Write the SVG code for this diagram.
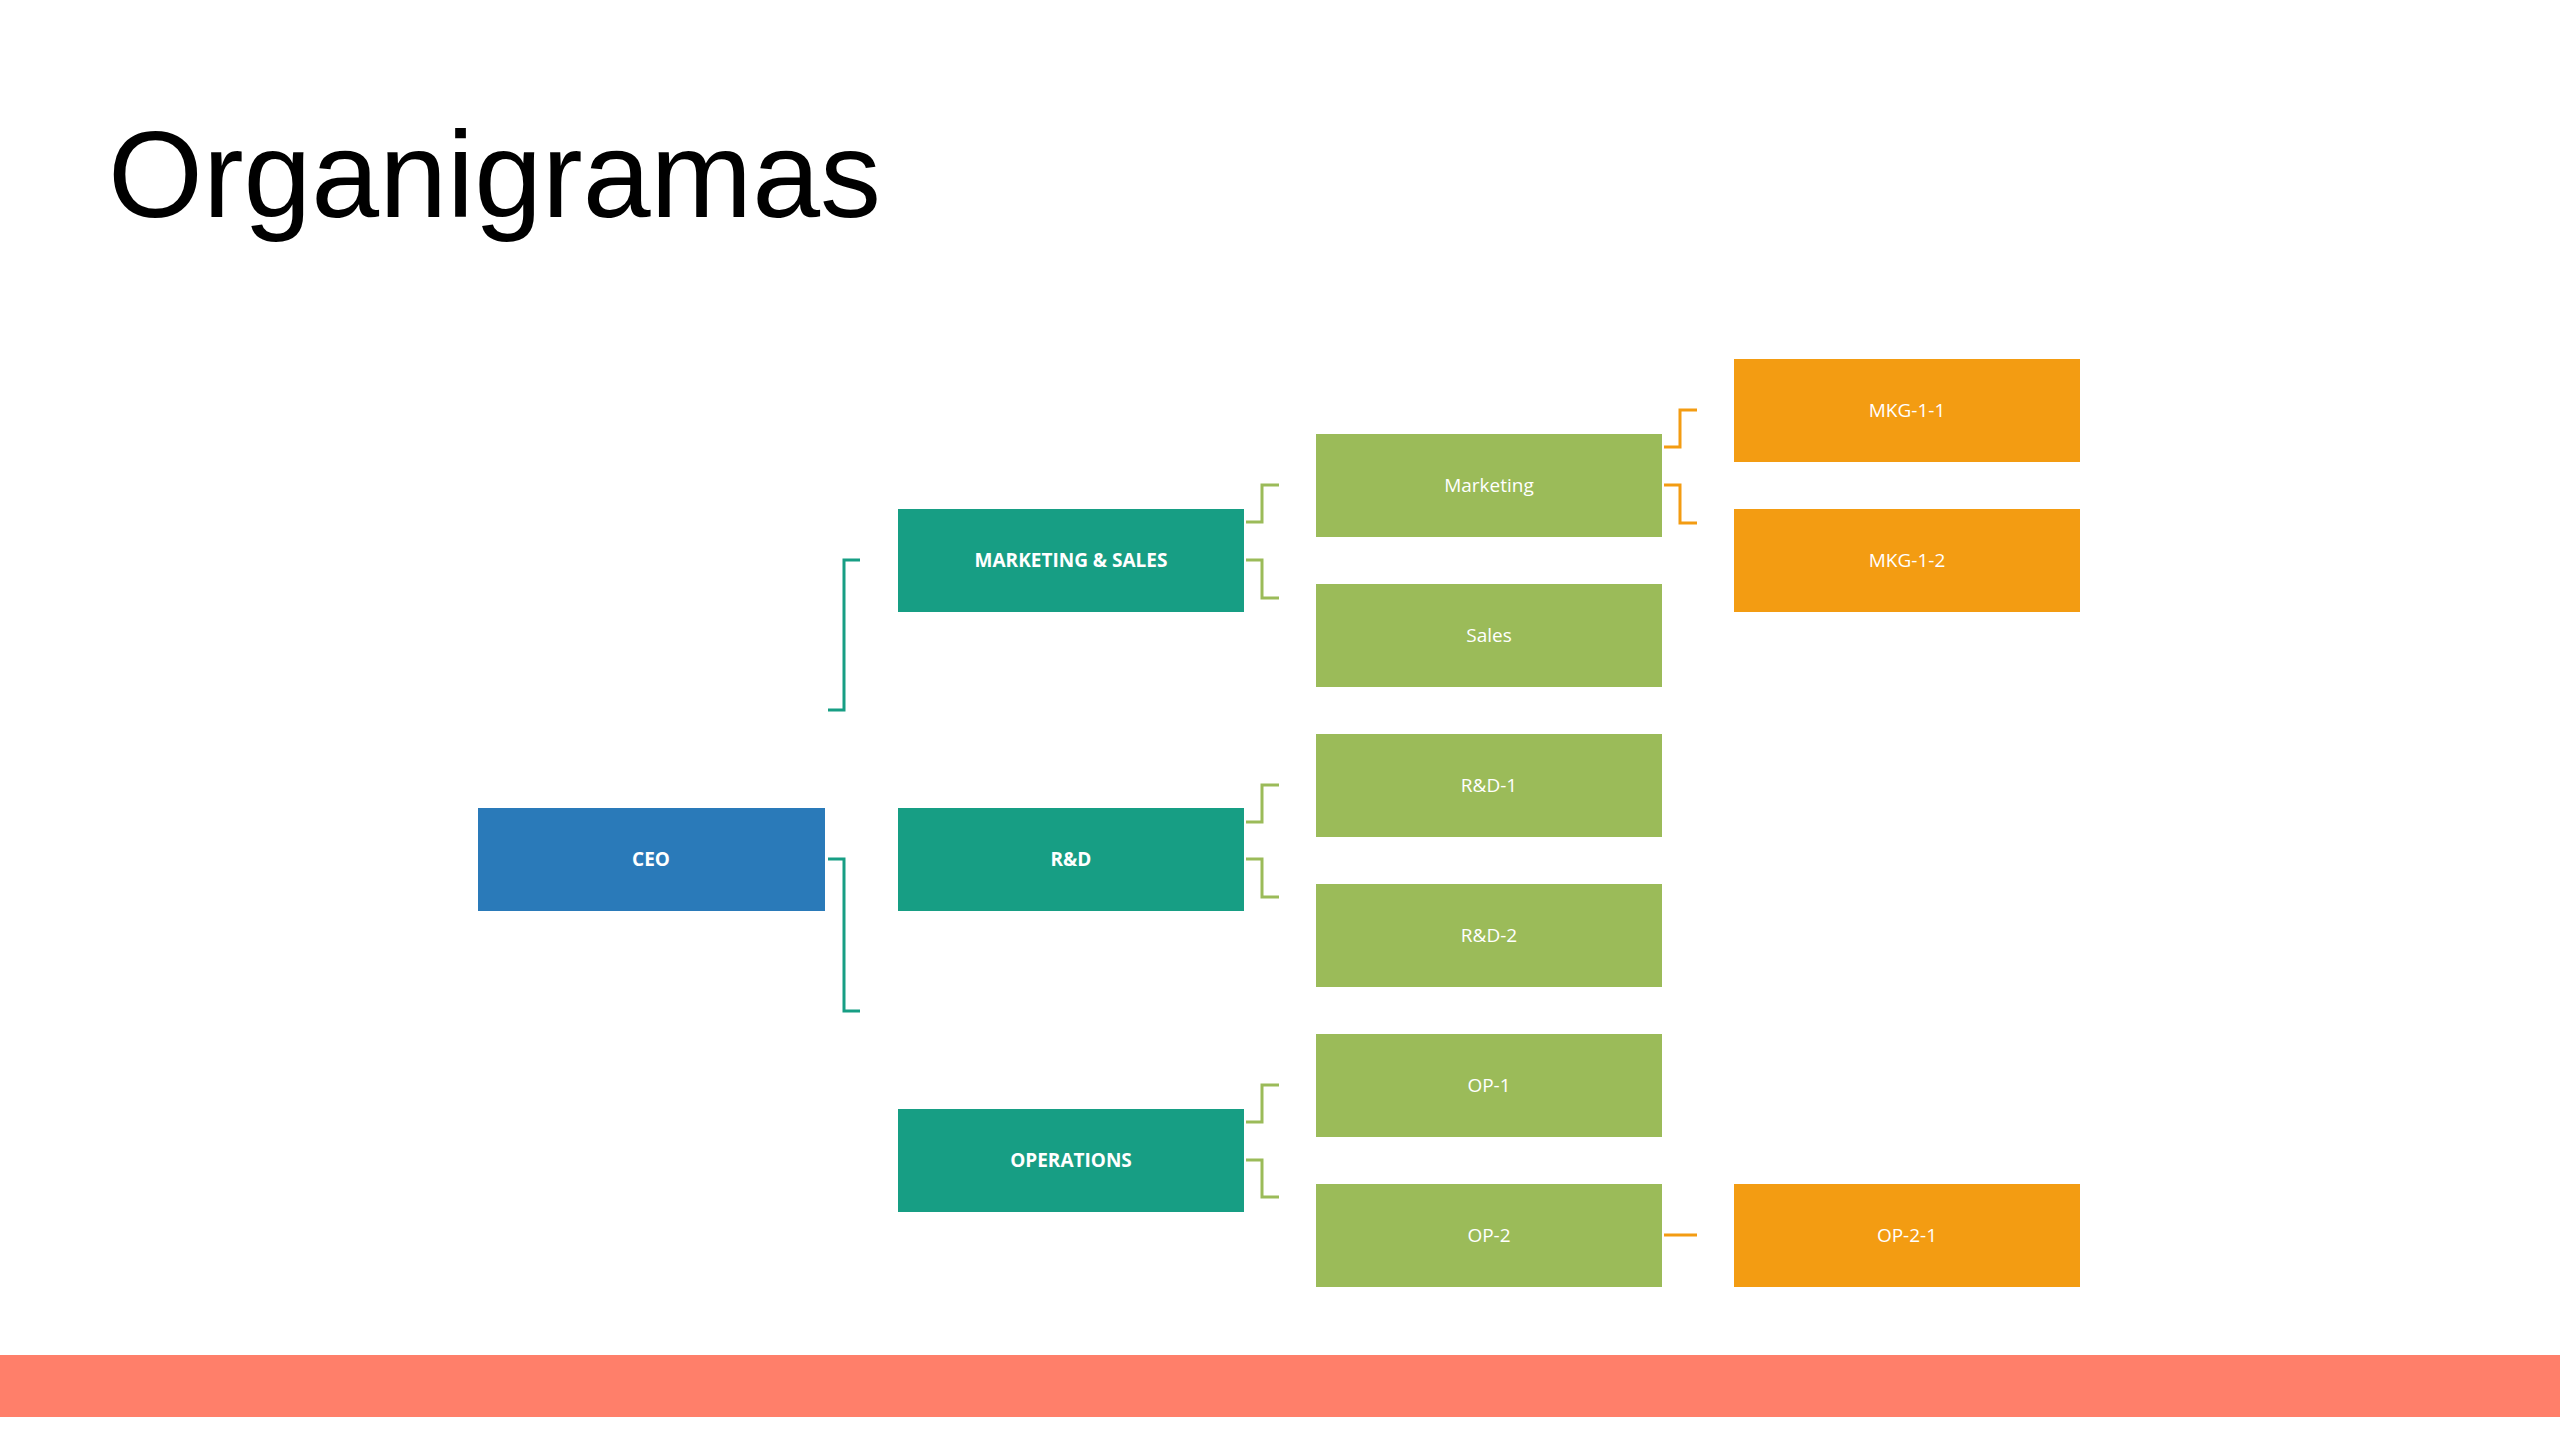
<svg xmlns="http://www.w3.org/2000/svg" width="2560" height="1440" viewBox="0 0 2560 1440">
<style>
.t{font-family:"Open Sans","Liberation Sans",sans-serif;fill:#fff;text-anchor:middle;dominant-baseline:central}
.b{font-weight:bold;font-size:19px}
.r{font-size:19px}
.c{fill:none;stroke-width:3}
</style>
<rect width="2560" height="1440" fill="#fff"/>
<text x="108" y="217" font-family="Liberation Sans,Arial,sans-serif" font-size="122" fill="#000">Organigramas</text>
<rect x="0" y="1355" width="2560" height="62" fill="#FF7F6A"/>
<g id="connectors">
<polyline class="c" stroke="#179E84" points="828,710 844,710 844,560 860,560"/>
<polyline class="c" stroke="#179E84" points="828,859 844,859 844,1011 860,1011"/>
<g stroke="#9BBB59">
<polyline class="c" points="1246,522 1262,522 1262,485 1279,485"/>
<polyline class="c" points="1246,560 1262,560 1262,598 1279,598"/>
<polyline class="c" points="1246,822 1262,822 1262,785 1279,785"/>
<polyline class="c" points="1246,859 1262,859 1262,897 1279,897"/>
<polyline class="c" points="1246,1122 1262,1122 1262,1085 1279,1085"/>
<polyline class="c" points="1246,1160 1262,1160 1262,1197 1279,1197"/>
</g>
<g stroke="#F39C12">
<polyline class="c" points="1664,447 1680,447 1680,410 1697,410"/>
<polyline class="c" points="1664,485 1680,485 1680,523 1697,523"/>
<line class="c" x1="1664" y1="1235" x2="1697" y2="1235"/>
</g>
</g>
<g id="ceo"><rect x="478" y="808" width="347" height="103" fill="#2A7AB9"/><text class="t b" x="651" y="859" font-size="23">CEO</text></g>
<g id="ms"><rect x="898" y="509" width="346" height="103" fill="#179E84"/><text class="t b" x="1071" y="560">MARKETING &amp; SALES</text></g>
<g id="rd"><rect x="898" y="808" width="346" height="103" fill="#179E84"/><text class="t b" x="1071" y="859">R&amp;D</text></g>
<g id="ops"><rect x="898" y="1109" width="346" height="103" fill="#179E84"/><text class="t b" x="1071" y="1160">OPERATIONS</text></g>
<g id="marketing"><rect x="1316" y="434" width="346" height="103" fill="#9BBB59"/><text class="t r" x="1489" y="485">Marketing</text></g>
<g id="sales"><rect x="1316" y="584" width="346" height="103" fill="#9BBB59"/><text class="t r" x="1489" y="635">Sales</text></g>
<g id="rd1"><rect x="1316" y="734" width="346" height="103" fill="#9BBB59"/><text class="t r" x="1489" y="785">R&amp;D-1</text></g>
<g id="rd2"><rect x="1316" y="884" width="346" height="103" fill="#9BBB59"/><text class="t r" x="1489" y="935">R&amp;D-2</text></g>
<g id="op1"><rect x="1316" y="1034" width="346" height="103" fill="#9BBB59"/><text class="t r" x="1489" y="1085">OP-1</text></g>
<g id="op2"><rect x="1316" y="1184" width="346" height="103" fill="#9BBB59"/><text class="t r" x="1489" y="1235">OP-2</text></g>
<g id="mkg11"><rect x="1734" y="359" width="346" height="103" fill="#F39C12"/><text class="t r" x="1907" y="410">MKG-1-1</text></g>
<g id="mkg12"><rect x="1734" y="509" width="346" height="103" fill="#F39C12"/><text class="t r" x="1907" y="560">MKG-1-2</text></g>
<g id="op21"><rect x="1734" y="1184" width="346" height="103" fill="#F39C12"/><text class="t r" x="1907" y="1235">OP-2-1</text></g>
</svg>
